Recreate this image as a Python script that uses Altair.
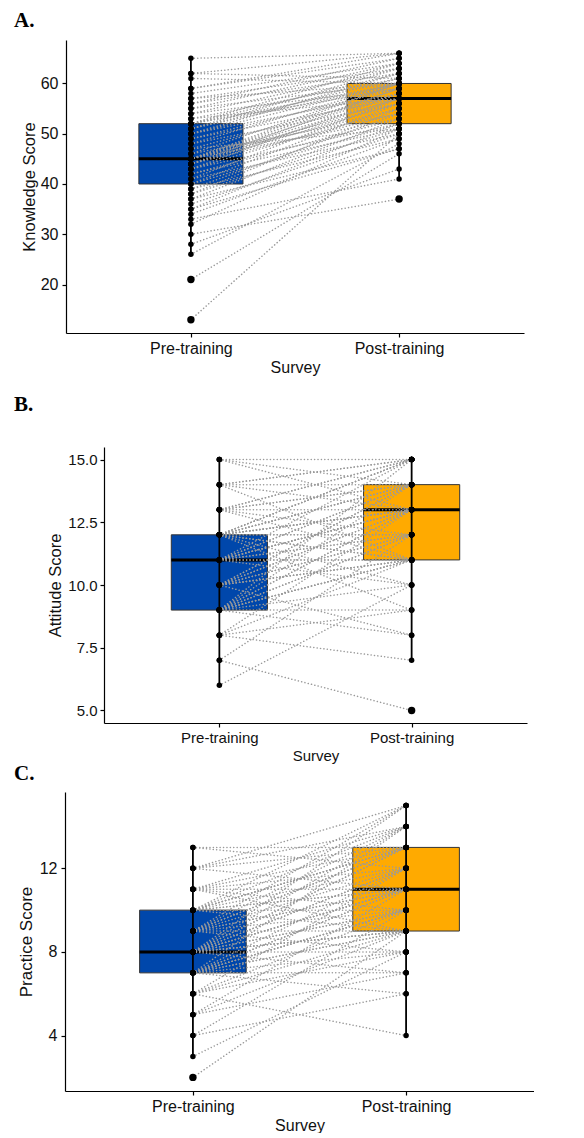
import altair as alt
import pandas as pd

SURVEYS = ["Pre-training", "Post-training"]
COLORS = ["#0047AB", "#FFAA00"]

# Panel A: Knowledge score (paired pre / post values per participant)
KNOW_PRE = [13, 21, 26, 28, 30, 32, 33, 34, 35, 35, 36, 37, 37, 38, 38, 39, 39, 40,
            40, 41, 41, 42, 42, 43, 43, 43, 44, 44, 44, 44, 45, 45, 45, 45, 45, 45,
            45, 46, 46, 47, 47, 48, 48, 49, 49, 50, 50, 50, 51, 51, 51, 52, 52, 52,
            52, 53, 53, 54, 54, 55, 55, 56, 56, 57, 57, 58, 59, 59, 61, 62, 62, 65]
KNOW_POST = [50, 46, 48, 43, 37, 51, 41, 49, 47, 52, 50, 47, 53, 51, 55, 49, 54, 52,
             56, 50, 57, 51, 53, 55, 58, 52, 56, 54, 59, 57, 53, 58, 60, 56, 55, 59,
             57, 54, 60, 58, 51, 56, 60, 57, 59, 60, 62, 58, 61, 60, 63, 59, 60, 62,
             64, 57, 61, 63, 59, 60, 64, 62, 65, 60, 63, 64, 66, 65, 60, 66, 61, 66]

# Panel B: Attitude score
ATT_PRE = [6, 7, 7, 8, 8, 8, 8, 9, 9, 9, 9, 9, 9, 9, 9, 9, 9, 9, 9, 10, 10, 10, 10,
           10, 10, 10, 10, 10, 10, 11, 11, 11, 11, 11, 11, 11, 11, 11, 11, 11, 11,
           12, 12, 12, 12, 12, 12, 12, 12, 12, 12, 12, 12, 12, 12, 12, 12, 13, 13,
           13, 13, 13, 13, 13, 14, 14, 14, 14, 14, 15, 15, 15]
ATT_POST = [10, 5, 12, 7, 11, 13, 9, 8, 11, 12, 13, 10, 14, 11, 12, 13, 15, 11, 9,
            11, 13, 12, 14, 8, 13, 11, 11, 12, 14, 13, 10, 14, 12, 13, 15, 11, 13,
            14, 12, 11, 13, 12, 13, 15, 11, 14, 13, 12, 15, 10, 13, 14, 11, 13, 15,
            14, 9, 14, 15, 13, 11, 14, 12, 15, 13, 15, 14, 11, 15, 14, 15, 13]

# Panel C: Practice score
PRAC_PRE = [2, 3, 4, 4, 5, 5, 5, 6, 6, 6, 6, 6, 7, 7, 7, 7, 7, 7, 7, 7, 7, 7, 7, 7,
            8, 8, 8, 8, 8, 8, 8, 8, 8, 8, 8, 8, 8, 8, 8, 8, 9, 9, 9, 9, 9, 9, 9, 9,
            9, 9, 10, 10, 10, 10, 10, 10, 10, 10, 10, 10, 11, 11, 11, 11, 11, 11,
            12, 12, 12, 12, 13, 13]
PRAC_POST = [9, 8, 6, 10, 7, 9, 11, 4, 8, 10, 9, 12, 6, 9, 11, 8, 10, 10, 9, 12, 11,
             7, 10, 14, 9, 11, 9, 10, 12, 8, 11, 14, 9, 13, 10, 11, 15, 12, 7, 13,
             11, 10, 13, 12, 9, 14, 11, 13, 8, 15, 13, 11, 12, 14, 9, 13, 11, 10, 15,
             13, 12, 14, 11, 13, 9, 10, 13, 15, 11, 14, 13, 12]

KNOW_TICKS = [20, 30, 40, 50, 60]
ATT_TICKS = [5.0, 7.5, 10.0, 12.5, 15.0]
PRAC_TICKS = [4, 8, 12]


def box_stats(vals):
    s = pd.Series(vals, dtype=float)
    q1, med, q3 = (float(v) for v in s.quantile([0.25, 0.5, 0.75]))
    iqr = q3 - q1
    lo_lim, hi_lim = q1 - 1.5 * iqr, q3 + 1.5 * iqr
    inside = s[(s >= lo_lim) & (s <= hi_lim)]
    return dict(q1=q1, med=med, q3=q3, lo=float(inside.min()), hi=float(inside.max()),
                lo_lim=lo_lim, hi_lim=hi_lim)


def panel(pre, post, letter, lx, ly, ytitle, ticks, fmt, w, h, fs, tfs, lpad_y, tpad_y):
    stats = [box_stats(pre), box_stats(post)]
    rows = []
    for i, (a, b) in enumerate(zip(pre, post)):
        for k, v in ((0, a), (1, b)):
            st = stats[k]
            rows.append({"id": i, "x": k + 1, "value": v,
                         "out": bool(v < st["lo_lim"] or v > st["hi_lim"])})
    pts = pd.DataFrame(rows)
    box = pd.DataFrame([dict(x=k + 1, survey=SURVEYS[k], **{kk: stats[k][kk] for kk in
                             ("q1", "med", "q3", "lo", "hi")}) for k in range(2)])

    allv = list(pre) + list(post)
    span = max(allv) - min(allv)
    ydom = [min(allv) - 0.05 * span, max(allv) + 0.05 * span]

    xsc = alt.Scale(domain=[0.4, 2.6], nice=False, zero=False)
    ysc = alt.Scale(domain=ydom, nice=False, zero=False)
    label_expr = f"datum.value == 1 ? '{SURVEYS[0]}' : '{SURVEYS[1]}'"
    xax = alt.Axis(values=[1, 2], labelExpr=label_expr, title="Survey", grid=False,
                   labelFontSize=fs, titleFontSize=fs, labelPadding=3, titlePadding=3,
                   tickSize=4, labelAngle=0)
    yax = alt.Axis(values=ticks, format=fmt, title=ytitle, grid=False,
                   labelFontSize=fs, titleFontSize=tfs, labelPadding=lpad_y,
                   titlePadding=tpad_y, tickSize=4)

    bb = alt.Chart(box).transform_calculate(xl="datum.x - 0.25", xr="datum.x + 0.25")
    rect = bb.mark_rect(stroke="#333333", strokeWidth=1).encode(
        x=alt.X("xl:Q", scale=xsc, axis=xax), x2="xr:Q",
        y=alt.Y("q1:Q", scale=ysc, axis=yax), y2="q3:Q",
        fill=alt.Fill("survey:N", scale=alt.Scale(domain=SURVEYS, range=COLORS), legend=None))
    med = bb.mark_rule(color="black", strokeWidth=3).encode(
        x=alt.X("xl:Q", scale=xsc, axis=xax), x2="xr:Q",
        y=alt.Y("med:Q", scale=ysc, axis=yax))
    lines = alt.Chart(pts).mark_line(color="#9a9a9a", strokeDash=[0.1, 3.3],
                                     strokeCap="round", strokeWidth=1.5).encode(
        x=alt.X("x:Q", scale=xsc, axis=xax),
        y=alt.Y("value:Q", scale=ysc, axis=yax), detail="id:N")
    whisk = bb.mark_rule(color="black", strokeWidth=1.8).encode(
        x=alt.X("x:Q", scale=xsc, axis=xax),
        y=alt.Y("lo:Q", scale=ysc, axis=yax), y2="hi:Q")
    dots = alt.Chart(pts).mark_circle(color="black", opacity=1).encode(
        x=alt.X("x:Q", scale=xsc, axis=xax),
        y=alt.Y("value:Q", scale=ysc, axis=yax),
        size=alt.condition("datum.out", alt.value(55), alt.value(30)))
    lab = alt.Chart(pd.DataFrame({"label": [letter]})).mark_text(
        align="left", baseline="top", font="Liberation Serif", fontWeight="bold",
        fontSize=21, color="black").encode(text="label:N", x=alt.value(lx), y=alt.value(ly))
    return alt.layer(rect, med, lines, whisk, dots, lab).properties(width=w, height=h)


def spacer(w, h):
    return alt.Chart(pd.DataFrame({"a": [0]})).mark_point(opacity=0).encode(
        x=alt.value(0), y=alt.value(0)).properties(width=w, height=h)


pA = panel(KNOW_PRE, KNOW_POST, "A.", -52, -30, "Knowledge Score", KNOW_TICKS, "d",
           458, 293, 16, 16.5, 4, 3)
pB = panel(ATT_PRE, ATT_POST, "B.", -90, -53, "Attitude Score", ATT_TICKS, ".1f",
           423, 276, 15, 16.5, 3, 4)
pC = panel(PRAC_PRE, PRAC_POST, "C.", -51, -29, "Practice Score", PRAC_TICKS, "d",
           469, 299, 16, 17, 4, 4)

rowA = alt.hconcat(spacer(2, 354), pA, spacing=0)
rowB = alt.hconcat(spacer(2, 300), pB, spacing=0)
rowC = alt.hconcat(spacer(2, 299), pC, spacing=0)

chart = alt.vconcat(rowA, rowB, rowC, spacing=0).properties(
    padding={"left": 0, "top": 2, "right": 0, "bottom": 0}
).configure_view(stroke=None).configure_axis(
    domainColor="black", tickColor="black", domainWidth=1.2, tickWidth=1.2,
    labelColor="#111111", titleColor="#111111", labelFont="Liberation Sans",
    titleFont="Liberation Sans", titleFontWeight="normal"
)

chart.save("out.html", embed_options={"renderer": "svg", "actions": False})
